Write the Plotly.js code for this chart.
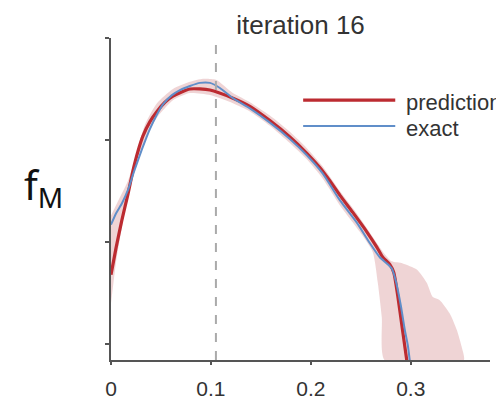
<!DOCTYPE html>
<html>
<head>
<meta charset="utf-8">
<script src="https://cdn.plot.ly/plotly-3.0.1.min.js"></script>
<style>html,body{margin:0;padding:0;background:#fff;}#chart{width:496px;height:403px;}</style>
</head>
<body>
<div id="chart"></div>
<script>
// ---- data ----
const predX = [0.000,0.005,0.011,0.017,0.022,0.027,0.032,0.039,0.046,0.054,0.062,0.079,0.099,0.122,0.139,0.159,0.179,0.196,0.209,0.219,0.229,0.242,0.256,0.266,0.272,0.279,0.283,0.287,0.292,0.296];
const predY = [0.68,0.94,1.22,1.47,1.70,1.89,2.04,2.18,2.28,2.37,2.43,2.50,2.49,2.41,2.33,2.19,2.03,1.87,1.73,1.60,1.46,1.29,1.10,0.95,0.85,0.78,0.70,0.47,0.12,-0.16];

const exactX = [0.000,0.005,0.011,0.017,0.023,0.031,0.039,0.046,0.052,0.061,0.069,0.079,0.089,0.099,0.109,0.122,0.139,0.159,0.179,0.196,0.212,0.229,0.246,0.259,0.269,0.276,0.281,0.285,0.290,0.294,0.297,0.299];
const exactY = [1.17,1.28,1.38,1.51,1.69,1.91,2.11,2.25,2.35,2.44,2.49,2.53,2.56,2.56,2.51,2.41,2.31,2.17,2.01,1.85,1.67,1.41,1.19,0.99,0.85,0.79,0.74,0.62,0.38,0.14,-0.01,-0.16];

const bandUpperX = [0,0.007,0.017,0.025,0.034,0.046,0.062,0.079,0.092,0.105,0.122,0.139,0.159,0.179,0.196,0.212,0.229,0.246,0.262,0.274,0.281,0.292,0.306,0.316,0.322,0.329,0.339,0.346,0.351,0.353];
const bandUpperY = [1.26,1.40,1.60,1.85,2.15,2.36,2.50,2.57,2.60,2.59,2.46,2.37,2.24,2.08,1.92,1.74,1.50,1.28,1.05,0.88,0.81,0.79,0.73,0.60,0.46,0.43,0.30,0.14,-0.03,-0.16];
const bandLowerX = [0.274,0.271,0.267,0.262,0.249,0.229,0.212,0.196,0.179,0.159,0.139,0.122,0.099,0.079,0.062,0.046,0.034,0.025,0.017,0.011,0.005,0];
const bandLowerY = [-0.16,0.26,0.60,0.90,1.10,1.36,1.62,1.81,1.97,2.14,2.28,2.36,2.44,2.46,2.39,2.22,2.00,1.78,1.45,1.15,0.80,0.40];

const xTicks = [0, 0.1, 0.2, 0.3];
const xTickText = ['0', '0.1', '0.2', '0.3'];
const yTicks = [0, 1, 2, 3];
const markerX = 0.105;
const seriesNames = ['prediction', 'exact'];
const titleText = 'iteration 16';

// ---- chart ----
const RED = '#bc2b31', BLUE = '#608ec9', AX = '#555555', TXT = '#333333';
const FONT = 'Liberation Sans, Arial, sans-serif';

const traces = [
  {x: bandUpperX.concat(bandLowerX), y: bandUpperY.concat(bandLowerY), mode: 'lines', fill: 'toself',
   fillcolor: 'rgba(205,120,125,0.32)', line: {width: 0, shape: 'spline', smoothing: 0.6}, hoverinfo: 'skip', showlegend: false},
  {x: predX, y: predY, name: seriesNames[0], mode: 'lines', line: {color: RED, width: 3.2, shape: 'spline', smoothing: 0.6}, showlegend: false},
  {x: exactX, y: exactY, name: seriesNames[1], mode: 'lines', line: {color: BLUE, width: 2, shape: 'spline', smoothing: 0.6}, showlegend: false}
];

const layout = {
  width: 496, height: 403,
  margin: {l: 111, r: 6, t: 38, b: 43},
  paper_bgcolor: '#fff', plot_bgcolor: '#fff',
  font: {family: FONT, color: TXT},
  title: {text: titleText, font: {family: FONT, size: 26, color: TXT}, x: 0.5, xref: 'paper', xanchor: 'center', y: 0.937, yref: 'container', yanchor: 'middle'},
  xaxis: {range: [0, 0.3793], showgrid: false, zeroline: false, showline: true, linecolor: AX, linewidth: 2,
          tickvals: xTicks, ticktext: xTickText, ticks: 'outside', ticklen: 3, tickcolor: AX, tickwidth: 2,
          ticklabelstandoff: 6, tickfont: {family: FONT, size: 21, color: TXT}},
  yaxis: {range: [-0.157, 3.0], showgrid: false, zeroline: false, showline: true, linecolor: AX, linewidth: 2,
          tickvals: yTicks, ticks: 'outside', ticklen: 4, tickcolor: AX, tickwidth: 2, showticklabels: false},
  shapes: [
    {type: 'line', xref: 'x', yref: 'paper', x0: markerX, x1: markerX, y0: 0, y1: 1, line: {color: '#aaaaaa', width: 2, dash: 'dash'}},
    {type: 'line', xref: 'paper', yref: 'paper', x0: 0.507, x1: 0.750, y0: 0.807, y1: 0.807, line: {color: RED, width: 3.2}},
    {type: 'line', xref: 'paper', yref: 'paper', x0: 0.507, x1: 0.750, y0: 0.727, y1: 0.727, line: {color: BLUE, width: 2}}
  ],
  annotations: [
    {text: seriesNames[0], xref: 'paper', yref: 'paper', x: 0.772, y: 0.800, xanchor: 'left', yanchor: 'middle', showarrow: false, font: {family: FONT, size: 22, color: TXT}},
    {text: seriesNames[1], xref: 'paper', yref: 'paper', x: 0.772, y: 0.720, xanchor: 'left', yanchor: 'middle', showarrow: false, font: {family: FONT, size: 22, color: TXT}},
    {text: 'f<sub>M</sub>', xref: 'paper', yref: 'paper', x: -0.235, y: 0.54, xanchor: 'left', yanchor: 'middle', showarrow: false, font: {family: 'Noto Sans, Open Sans, sans-serif', size: 40, color: '#111'}}
  ]
};

Plotly.newPlot('chart', traces, layout, {staticPlot: true, displayModeBar: false});
</script>
</body>
</html>
